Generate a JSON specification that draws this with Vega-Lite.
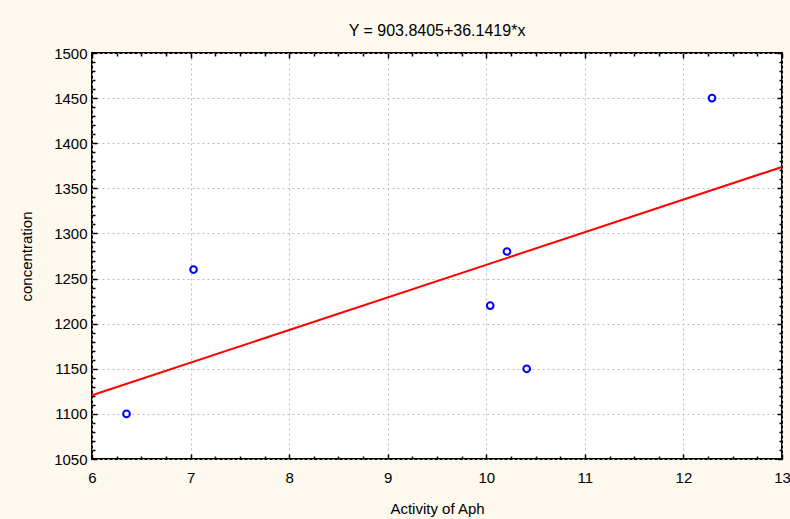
{
  "$schema": "https://vega.github.io/schema/vega-lite/v6.json",
  "autosize": "none",
  "width": 690,
  "height": 406,
  "padding": {"left": 92, "top": 53, "right": 8, "bottom": 60},
  "background": "#fdf9ef",
  "title": {"text": "Y = 903.8405+36.1419*x", "fontSize": 16, "fontWeight": "normal", "font": "Liberation Sans", "color": "black", "offset": 7},
  "config": {
    "view": {"fill": "white", "stroke": "black", "strokeWidth": 2},
    "font": "Liberation Sans",
    "axis": {"labelFont": "Liberation Sans", "titleFont": "Liberation Sans", "labelColor": "black", "titleColor": "black", "titleFontWeight": "normal", "labelFontSize": 15, "titleFontSize": 15, "domain": false, "tickColor": "black", "tickWidth": 1.5, "labelFlush": false, "labelOverlap": false, "gridColor": "#bdbdbd", "gridDash": [2, 3], "gridWidth": 1}
  },
  "layer": [
    {
      "data": {"values": [
        {"x": 6.35, "y": 1100},
        {"x": 7.03, "y": 1260},
        {"x": 10.04, "y": 1220},
        {"x": 10.21, "y": 1280},
        {"x": 10.41, "y": 1150},
        {"x": 12.29, "y": 1450}
      ]},
      "mark": {"type": "point", "filled": false, "color": "#0000ff", "strokeWidth": 2, "size": 45, "opacity": 1},
      "encoding": {
        "x": {"field": "x", "type": "quantitative", "scale": {"domain": [6, 13], "nice": false, "zero": false},
          "axis": {"orient": "bottom", "title": "Activity of Aph", "titlePadding": 14,
            "values": [6,6.25,6.5,6.75,7,7.25,7.5,7.75,8,8.25,8.5,8.75,9,9.25,9.5,9.75,10,10.25,10.5,10.75,11,11.25,11.5,11.75,12,12.25,12.5,12.75,13],
            "labelExpr": "datum.value % 1 === 0 ? format(datum.value, 'd') : ''",
            "tickSize": {"condition": {"test": "datum.value % 1 === 0", "value": -5}, "value": -3},
            "gridOpacity": {"condition": {"test": "datum.value % 1 === 0", "value": 1}, "value": 0},
            "labelPadding": 16}},
        "y": {"field": "y", "type": "quantitative", "scale": {"domain": [1050, 1500], "nice": false, "zero": false},
          "axis": {"orient": "left", "title": "concentration", "titlePadding": 19,
            "values": [1050,1060,1070,1080,1090,1100,1110,1120,1130,1140,1150,1160,1170,1180,1190,1200,1210,1220,1230,1240,1250,1260,1270,1280,1290,1300,1310,1320,1330,1340,1350,1360,1370,1380,1390,1400,1410,1420,1430,1440,1450,1460,1470,1480,1490,1500],
            "labelExpr": "datum.value % 50 === 0 ? format(datum.value, 'd') : ''",
            "tickSize": {"condition": {"test": "datum.value % 50 === 0", "value": -5}, "value": -3},
            "gridOpacity": {"condition": {"test": "datum.value % 50 === 0", "value": 1}, "value": 0},
            "labelPadding": 10}}
      }
    },
    {
      "data": {"values": [
        {"x": 6, "y": 1120.69},
        {"x": 13, "y": 1373.69}
      ]},
      "mark": {"type": "line", "color": "#ff0000", "strokeWidth": 2},
      "encoding": {
        "x": {"field": "x", "type": "quantitative",
          "axis": {"orient": "top", "title": null, "labels": false, "grid": false,
            "values": [6,6.25,6.5,6.75,7,7.25,7.5,7.75,8,8.25,8.5,8.75,9,9.25,9.5,9.75,10,10.25,10.5,10.75,11,11.25,11.5,11.75,12,12.25,12.5,12.75,13],
            "tickSize": {"condition": {"test": "datum.value % 1 === 0", "value": -5}, "value": -3}}},
        "y": {"field": "y", "type": "quantitative",
          "axis": {"orient": "right", "title": null, "labels": false, "grid": false,
            "values": [1050,1060,1070,1080,1090,1100,1110,1120,1130,1140,1150,1160,1170,1180,1190,1200,1210,1220,1230,1240,1250,1260,1270,1280,1290,1300,1310,1320,1330,1340,1350,1360,1370,1380,1390,1400,1410,1420,1430,1440,1450,1460,1470,1480,1490,1500],
            "tickSize": {"condition": {"test": "datum.value % 50 === 0", "value": -5}, "value": -3}}}
      }
    }
  ],
  "resolve": {"axis": {"x": "independent", "y": "independent"}}
}
